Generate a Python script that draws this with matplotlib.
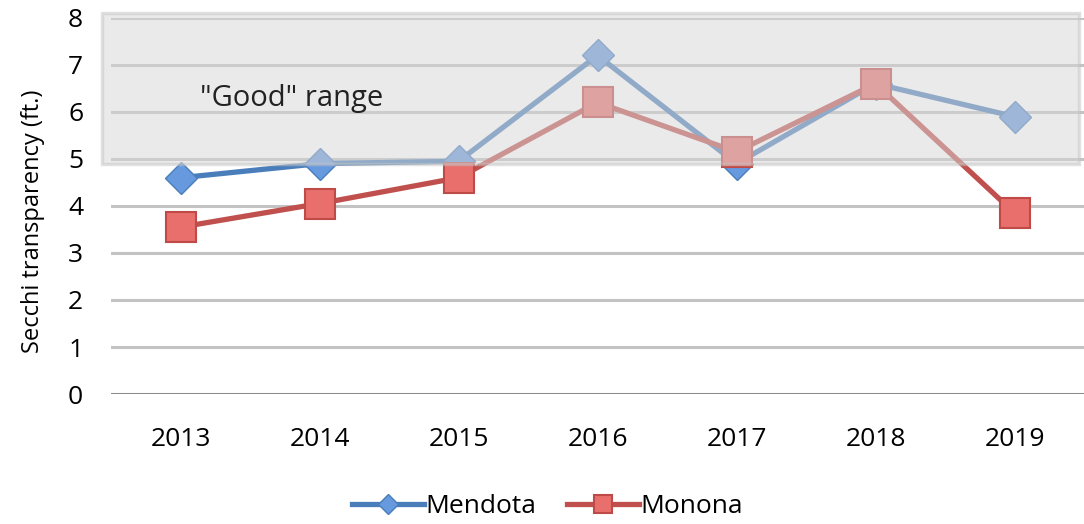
import matplotlib
matplotlib.use('Agg')
import matplotlib.pyplot as plt
from matplotlib.patches import Rectangle

# data
years = ['2013', '2014', '2015', '2016', '2017', '2018', '2019']
mendota = [4.6, 4.9, 4.95, 7.2, 4.9, 6.6, 5.9]
monona = [3.55, 4.05, 4.6, 6.2, 5.15, 6.6, 3.85]
good_low, good_high = 5, 8

plt.rcParams['font.family'] = ['Open Sans', 'DejaVu Sans']

fig = plt.figure(figsize=(10.84, 5.24), dpi=100)
ax = fig.add_axes([0.1024, 0.248, 0.8976, 0.718])

x = list(range(len(years)))

# gridlines
for yv in range(1, 9):
    ax.axhline(yv, color='#c3c3c3', lw=2.2, zorder=1)
ax.axhline(0, color='#8c8c8c', lw=2.2, zorder=1)

ax.plot(x, mendota, color='#4a7ebb', lw=3.8, marker='D', markersize=16,
        markerfacecolor='#6699dd', markeredgecolor='#4a7ebb', markeredgewidth=1,
        label='Mendota', zorder=3)
ax.plot(x, monona, color='#c0504d', lw=3.8, marker='s', markersize=21,
        markerfacecolor='#e86f6c', markeredgecolor='#be4b48', markeredgewidth=1.5,
        label='Monona', zorder=3)

# translucent "good" range box drawn over the lines
box = Rectangle((-0.565, good_low - 0.1), 7.03, good_high - good_low + 0.2,
                facecolor='#d6d6d6', edgecolor='#c4c4c4', lw=2.5, alpha=0.5,
                zorder=4, clip_on=False)
ax.add_patch(box)
ax.text(0.14, 6.13, '"Good" range', fontsize=21, color='#222222',
        ha='left', va='baseline', zorder=5)

ax.set_xlim(-0.5, 6.5)
ax.set_ylim(0, 8)
ax.set_xticks(x)
ax.set_xticklabels(years, fontsize=19)
ax.set_yticks(range(0, 9))
ax.set_yticklabels([str(v) for v in range(0, 9)], fontsize=19)
ax.tick_params(length=0)
ax.tick_params(axis='x', pad=24)
ax.tick_params(axis='y', pad=20)
for s in ax.spines.values():
    s.set_visible(False)
ax.set_ylabel('Secchi transparency (ft.)', fontsize=17)
ax.yaxis.set_label_coords(-0.068, 0.46)

fig.legend(loc='lower center', bbox_to_anchor=(0.505, -0.036), ncol=2,
           frameon=False, fontsize=19, handlelength=2.7, columnspacing=1.2,
           handletextpad=0.05, markerscale=0.65)

fig.savefig('out.png', dpi=100)
